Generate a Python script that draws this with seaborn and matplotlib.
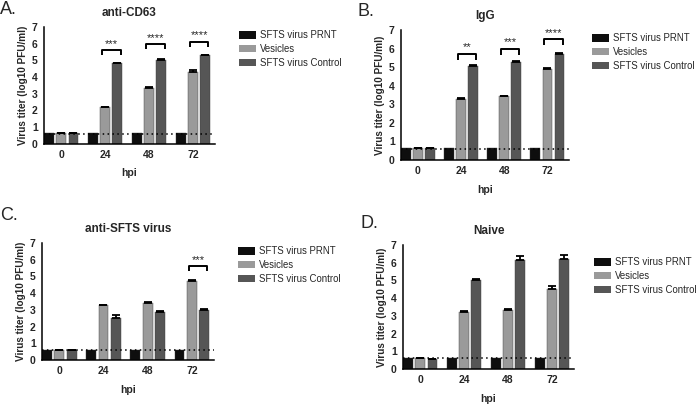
import numpy as np
import pandas as pd
import matplotlib
matplotlib.use("Agg")
import matplotlib.pyplot as plt
import seaborn as sns

# ------------------------------------------------------------
# data (log10 PFU/ml)
# ------------------------------------------------------------
hpi = ["0", "24", "48", "72"]
series = ["SFTS virus PRNT", "Vesicles", "SFTS virus Control"]
colors = ["#0e0e0e", "#9a9a9a", "#565656"]

letters = ["A.", "B.", "C.", "D."]
titles = ["anti-CD63", "IgG", "anti-SFTS virus", "Naive"]

detection_limit = 0.6

prnt_a = [0.62, 0.62, 0.62, 0.62]
ves_a = [0.62, 2.18, 3.36, 4.28]
ves_err_a = [0.0, 0.04, 0.04, 0.13]
ctrl_a = [0.62, 4.82, 5.04, 5.30]
ctrl_err_a = [0.0, 0.04, 0.04, 0.04]

prnt_b = [0.62, 0.62, 0.62, 0.62]
ves_b = [0.62, 3.30, 3.42, 4.92]
ves_err_b = [0.0, 0.04, 0.04, 0.04]
ctrl_b = [0.62, 5.05, 5.30, 5.72]
ctrl_err_b = [0.0, 0.04, 0.04, 0.04]

prnt_c = [0.62, 0.62, 0.62, 0.62]
ves_c = [0.62, 3.27, 3.41, 4.70]
ves_err_c = [0.0, 0.04, 0.04, 0.08]
ctrl_c = [0.62, 2.54, 2.90, 3.02]
ctrl_err_c = [0.0, 0.15, 0.04, 0.06]

prnt_d = [0.62, 0.62, 0.62, 0.62]
ves_d = [0.62, 3.22, 3.35, 4.50]
ves_err_d = [0.0, 0.04, 0.04, 0.20]
ctrl_d = [0.56, 5.03, 6.13, 6.19]
ctrl_err_d = [0.0, 0.04, 0.25, 0.24]

# significance brackets: (group index, bracket top, stars)
sig_a = [(1, 5.62, "***"), (2, 5.98, "****"), (3, 6.12, "****")]
sig_b = [(1, 5.71, "**"), (2, 5.98, "***"), (3, 6.50, "****")]
sig_c = [(3, 5.62, "***")]
sig_d = []

# ------------------------------------------------------------
# layout (pixels on a 696x405 canvas)
# ------------------------------------------------------------
W, H = 696, 405
axes_px = [(44, 27, 215, 143.5), (401, 30, 569, 160),
           (42, 243, 214, 360), (403, 245, 574, 369)]
letter_px = [(0, 10), (357, 12), (0, 215), (360, 223)]
legend_px = [(239, 30), (592, 33), (238, 246), (594, 257)]


def long_frame(prnt, ves, ctrl):
    rows = []
    for name, vals in zip(series, [prnt, ves, ctrl]):
        for h, v in zip(hpi, vals):
            rows.append({"hpi": h, "group": name, "titer": v})
    return pd.DataFrame(rows)


def draw_panel(fig, idx, prnt, ves, ctrl, ves_err, ctrl_err, sigs):
    l, t, r, b = axes_px[idx]
    ax = fig.add_axes([l / W, 1 - b / H, (r - l) / W, (b - t) / H])
    df = long_frame(prnt, ves, ctrl)

    sns.barplot(data=df, x="hpi", y="titer", hue="group", order=hpi,
                hue_order=series, palette=colors, errorbar=None,
                width=0.84, gap=0.2, edgecolor="#3a3a3a", linewidth=0.3,
                ax=ax)

    # error bars (upper only) on vesicles and control
    for cont, err in zip(ax.containers[1:], [ves_err, ctrl_err]):
        xs = [p.get_x() + p.get_width() / 2 for p in cont]
        ys = [p.get_height() for p in cont]
        lo = np.zeros(len(err))
        ax.errorbar(xs, ys, yerr=[lo, err], fmt="none", ecolor="black",
                    elinewidth=1.3, capsize=3.2, capthick=1.3, zorder=4)

    ax.axhline(detection_limit, color="black", lw=1.1, ls=(0, (1, 2.2)),
               zorder=1)

    # brackets
    for g, top, stars in sigs:
        p1 = ax.containers[1][g]
        p2 = ax.containers[2][g]
        x1 = p1.get_x() + 0.04
        x2 = p2.get_x() + p2.get_width() - 0.04
        ax.plot([x1, x1, x2, x2], [top - 0.3, top, top, top - 0.3],
                color="black", lw=1.4, solid_capstyle="butt")
        ax.text((x1 + x2) / 2, top + 0.08, stars, ha="center", va="bottom",
                fontsize=8)

    ax.set_xlim(-0.39, 3.5)
    ax.set_ylim(0, 7)
    ax.set_yticks(range(8))
    ax.set_xticklabels(hpi, fontweight="bold", fontsize=7.5)
    ax.set_yticklabels([str(v) for v in range(8)], fontweight="bold",
                       fontsize=7.5)
    ax.tick_params(axis="both", length=3, width=1, pad=1.5, color="black")
    for s in ["left", "bottom"]:
        ax.spines[s].set_linewidth(1.1)
        ax.spines[s].set_color("black")
    sns.despine(ax=ax)

    ax.set_xlabel("hpi", fontweight="bold", fontsize=7.5, labelpad=6)
    ax.set_ylabel("Virus titer (log10 PFU/ml)", fontweight="bold",
                  fontsize=7.2, labelpad=3)
    ax.set_title(titles[idx], fontweight="bold", fontsize=8.5, pad=8)

    lx, ly = legend_px[idx]
    handles, labels = ax.get_legend_handles_labels()
    for hd in handles:
        hd.set_edgecolor("none")
    ax.legend(handles, labels, loc="upper left",
              bbox_to_anchor=(lx / W, 1 - ly / H),
              bbox_transform=fig.transFigure, frameon=False, fontsize=6.9,
              handlelength=1.75, handleheight=0.85, handletextpad=0.45,
              labelspacing=0.4, borderpad=0, borderaxespad=0)

    fx, fy = letter_px[idx]
    fig.text(fx / W, 1 - fy / H, letters[idx], fontsize=13, va="center",
             ha="left")
    return ax


sns.set_style("white")
plt.rcParams["font.family"] = ["Liberation Sans", "DejaVu Sans"]

fig = plt.figure(figsize=(6.96, 4.05), dpi=100)

draw_panel(fig, 0, prnt_a, ves_a, ctrl_a, ves_err_a, ctrl_err_a, sig_a)
draw_panel(fig, 1, prnt_b, ves_b, ctrl_b, ves_err_b, ctrl_err_b, sig_b)
draw_panel(fig, 2, prnt_c, ves_c, ctrl_c, ves_err_c, ctrl_err_c, sig_c)
draw_panel(fig, 3, prnt_d, ves_d, ctrl_d, ves_err_d, ctrl_err_d, sig_d)

fig.savefig("out.png", dpi=100, facecolor="white")
